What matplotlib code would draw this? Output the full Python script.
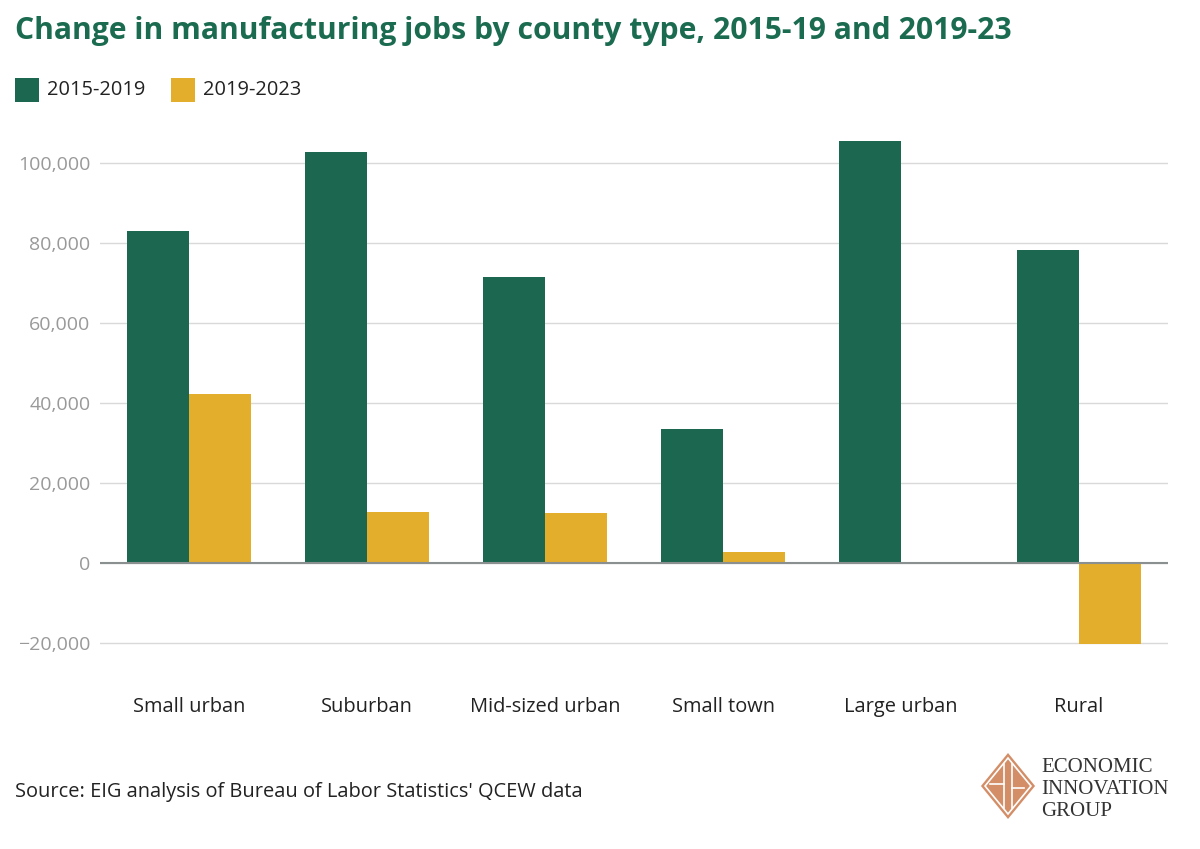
import matplotlib
matplotlib.use("Agg")
import matplotlib.pyplot as plt
import numpy as np
from matplotlib.patches import Polygon, Rectangle

plt.rcParams['font.family'] = ['Open Sans', 'DejaVu Sans']

categories = ["Small urban", "Suburban", "Mid-sized urban", "Small town", "Large urban", "Rural"]
series_names = ["2015-2019", "2019-2023"]
values_2015_2019 = [83000, 102800, 71500, 33500, 105500, 78300]
values_2019_2023 = [42200, 12700, 12500, 2700, 0, -20300]
yticks = [-20000, 0, 20000, 40000, 60000, 80000, 100000]

GREEN = "#1B6750"
YELLOW = "#E3AE2B"

fig = plt.figure(figsize=(12, 8.49), dpi=100)
ax = fig.add_axes([100/1200, (849-647)/849, 1068/1200, (647-123)/849])

x = np.arange(len(categories))
w = 0.35
ax.bar(x - w/2, values_2015_2019, width=w, color=GREEN, zorder=3, label=series_names[0])
ax.bar(x + w/2, values_2019_2023, width=w, color=YELLOW, zorder=3, label=series_names[1])

ax.set_xlim(-0.5, len(categories) - 0.5)
ax.set_ylim(-21000, 110000)
ax.set_yticks(yticks)
ax.set_yticklabels([f"{v:,}".replace("-", "\u2212") for v in yticks], color="#999999", fontsize=14)
ax.yaxis.grid(True, color="#d9d9d9", linewidth=1, zorder=0)
ax.axhline(0, color="#8a8f8f", linewidth=1.5, zorder=4)
ax.tick_params(axis='y', length=0, pad=7)
ax.set_xticks(x)
ax.set_xticklabels(categories, fontsize=14.4, color="#222222")
ax.tick_params(axis='x', length=0, pad=36)
for s in ax.spines.values():
    s.set_visible(False)

# Title
fig.text(15/1200, 1 - 31/849, "Change in manufacturing jobs by county type, 2015-19 and 2019-23",
         fontsize=21.7, fontweight='bold', color="#1B6B50", va='center', ha='left')

# Legend
def legend_item(xpx, color, text):
    fig.patches.append(Rectangle((xpx/1200, 1 - 102/849), 24/1200, 24/849, transform=fig.transFigure,
                                 facecolor=color, edgecolor='none'))
    fig.text((xpx + 32)/1200, 1 - 90/849, text, fontsize=14.4, color="#222222", va='center', ha='left')
legend_item(15, GREEN, series_names[0])
legend_item(171, YELLOW, series_names[1])

# Source
fig.text(15/1200, 1 - 792/849, "Source: EIG analysis of Bureau of Labor Statistics' QCEW data",
         fontsize=14.4, color="#222222", va='center', ha='left')

# Logo
cx, cy, r = 1008, 786, 33
def fp(px, py):
    return (px/1200, 1 - py/849)
fig.patches.append(Polygon([fp(cx, cy - r), fp(cx + r*0.82, cy), fp(cx, cy + r), fp(cx - r*0.82, cy)],
                           closed=True, transform=fig.transFigure, facecolor="#D38E67", edgecolor='none'))
r2 = r - 5
fig.patches.append(Polygon([fp(cx, cy - r2), fp(cx + r2*0.82, cy), fp(cx, cy + r2), fp(cx - r2*0.82, cy)],
                           closed=True, transform=fig.transFigure, facecolor='none', edgecolor='white', linewidth=1.2))
for (x0, y0, x1, y1) in [(cx - 4, cy - 22, cx - 4, cy + 22), (cx + 4, cy - 22, cx + 4, cy + 22),
                         (cx - 18, cy - 2, cx - 4, cy - 2), (cx + 4, cy + 2, cx + 16, cy + 2)]:
    fig.lines.append(plt.Line2D([x0/1200, x1/1200], [1 - y0/849, 1 - y1/849], transform=fig.transFigure,
                                color='white', linewidth=1.2))
for i, t in enumerate(["ECONOMIC", "INNOVATION", "GROUP"]):
    fig.text(1041/1200, 1 - (767 + i*22)/849, t, fontsize=15, family=['Liberation Serif', 'DejaVu Serif'],
             color="#333333", va='center', ha='left')

fig.savefig("out.png", dpi=100, facecolor='white')
